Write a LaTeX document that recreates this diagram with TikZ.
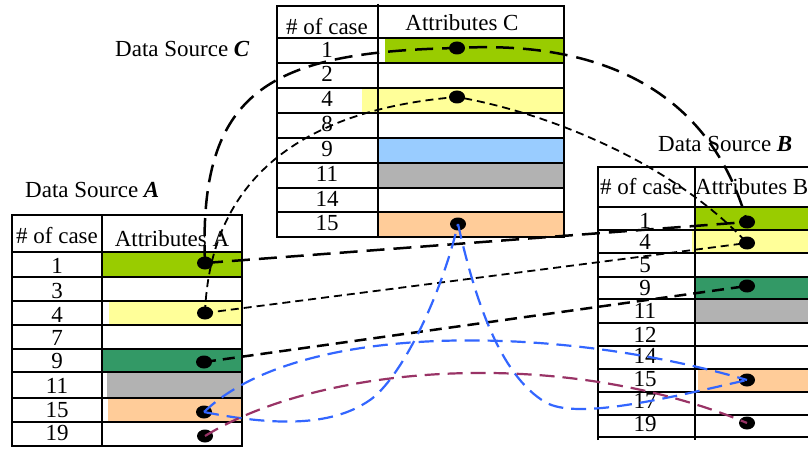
\documentclass[tikz,border=0pt]{standalone}
\usepackage{fontspec}
\setmainfont{Liberation Serif}
\usetikzlibrary{shapes.geometric}
\definecolor{cgreen}{HTML}{99CC00}
\definecolor{cyellow}{HTML}{FFFF99}
\definecolor{cdkgreen}{HTML}{339966}
\definecolor{cgray}{HTML}{B2B2B2}
\definecolor{cpeach}{HTML}{FFCC99}
\definecolor{cltblue}{HTML}{99CCFF}
\definecolor{lineblue}{HTML}{3366FF}
\definecolor{linepurple}{HTML}{993366}
\begin{document}
\begin{tikzpicture}[x=1pt,y=-1pt,
  tbl/.style={line width=2.2pt},
  txt/.style={font=\fontsize{23}{26}\selectfont, inner sep=0pt, anchor=base},
  txtw/.style={txt, anchor=base west},
  dotn/.style={ellipse, fill=black, minimum width=16pt, minimum height=13pt, inner sep=0pt},
  lthick/.style={line width=2.5pt, dash pattern=on 18pt off 9pt},
  lshort/.style={line width=1.8pt, dash pattern=on 8pt off 5pt},
  lmed/.style={line width=2.5pt, dash pattern=on 12pt off 7pt},
  lblue/.style={draw=lineblue, line width=2.2pt, dash pattern=on 15pt off 8pt},
  lpurple/.style={draw=linepurple, line width=2.2pt, dash pattern=on 15pt off 8pt}]
\useasboundingbox (0,0) rectangle (808,449);
\fill[white] (0,0) rectangle (808,449);

% ---------- Table C ----------
\fill[cgreen] (385,38) rectangle (564,63);
\fill[cyellow] (362,88) rectangle (564,113);
\fill[cltblue] (378,138) rectangle (564,163);
\fill[cgray] (378,163) rectangle (564,188);
\fill[cpeach] (378,212) rectangle (564,237);
\draw[tbl] (277,6) rectangle (564,237);
\draw[tbl] (378,4) -- (378,237);
\foreach \y in {38,63,88,113,138,163,188,212} \draw[tbl] (277,\y) -- (564,\y);
\node[txtw] (titC) at (115,57) {Data Source \textbf{\textit{C}}};
\node[txt] (hc1) at (327,35) {\# of case};
\node[txt] (hc2) at (462,31) {Attributes C};
\foreach \t/\b in {1/58,2/82,4/107,8/132,9/157,11/182,14/207,15/230}
  \node[txt] at (327,\b) {\t};

% ---------- Table A ----------
\fill[cgreen] (102,252) rectangle (242,277);
\fill[cyellow] (109,301) rectangle (242,325);
\fill[cdkgreen] (102,349) rectangle (242,372);
\fill[cgray] (107,372) rectangle (242,398);
\fill[cpeach] (108,398) rectangle (242,422);
\draw[tbl] (12,215) rectangle (242,446);
\draw[tbl] (102,215) -- (102,446);
\foreach \y in {252,277,301,325,349,372,398,422} \draw[tbl] (12,\y) -- (242,\y);
\node[txtw] (titA) at (25,197) {Data Source \textbf{\textit{A}}};
\node[txt] (ha1) at (57,243) {\# of case};
\node[txt] (ha2) at (172,246) {Attributes A};
\foreach \t/\b in {1/273,3/298,4/322,7/345,9/368,11/393,15/417,19/440}
  \node[txt] at (57,\b) {\t};

% ---------- Table B ----------
\fill[cgreen] (695,207) rectangle (830,230);
\fill[cyellow] (692,230) rectangle (830,253);
\fill[cdkgreen] (695,277) rectangle (830,299);
\fill[cgray] (695,299) rectangle (830,323);
\fill[cpeach] (698,369) rectangle (830,392);
\draw[tbl] (598,440) -- (598,167) -- (830,167);
\draw[tbl] (695,167) -- (695,440);
\foreach \y in {207,230,253,277,299,323,346,369,392,415,437} \draw[tbl] (598,\y) -- (830,\y);
\node[txtw] (titB) at (658,152) {Data Source \textbf{\textit{B}}};
\node[txtw] (hb1) at (600,195) {\# of case};
\node[txtw] (hb2) at (695,195) {Attributes B};
\foreach \t/\b in {1/228,4/249,5/272,9/295,11/318,12/342,14/363,15/386,17/408,19/431}
  \node[txt] at (645,\b) {\t};

% ---------- Dots ----------
\node[dotn] (c1) at (457,48) {};
\node[dotn] (c4) at (457,97) {};
\node[dotn] (c15) at (458,224) {};
\node[dotn] (a1) at (205,263) {};
\node[dotn] (a4) at (205,313) {};
\node[dotn] (a9) at (204,362) {};
\node[dotn] (a15) at (204,412) {};
\node[dotn] (a19) at (205,436) {};
\node[dotn] (b1) at (747,222) {};
\node[dotn] (b4) at (747,243) {};
\node[dotn] (b9) at (747,286) {};
\node[dotn] (b15) at (747,380) {};
\node[dotn] (b19) at (747,423) {};

% ---------- Connectors ----------
\draw[lthick] (a1.center) .. controls (198,90) and (270,52) .. (c1.center)
  .. controls (600,40) and (710,90) .. (b1.center);
\draw[lthick] (a1.center) -- (b1.center);
\draw[lshort] (a4.center) .. controls (210,180) and (300,110) .. (c4.center)
  .. controls (560,115) and (680,170) .. (b4.center);
\draw[lshort] (a4.center) -- (b4.center);
\draw[lmed] (a9.center) -- (b9.center);
\draw[lblue] (a15.center) .. controls (300,320) and (560,325) .. (b15.center);
\draw[lblue] (a15.center) .. controls (270,425) and (330,428) .. (370,400)
  .. controls (400,379) and (440,300) .. (c15.center);
\draw[lblue] (c15.center) .. controls (475,300) and (500,375) .. (545,402)
  .. controls (575,420) and (660,400) .. (b15.center);
\draw[lpurple] (a19.center) .. controls (320,365) and (560,345) .. (b19.center);
\end{tikzpicture}
\end{document}
